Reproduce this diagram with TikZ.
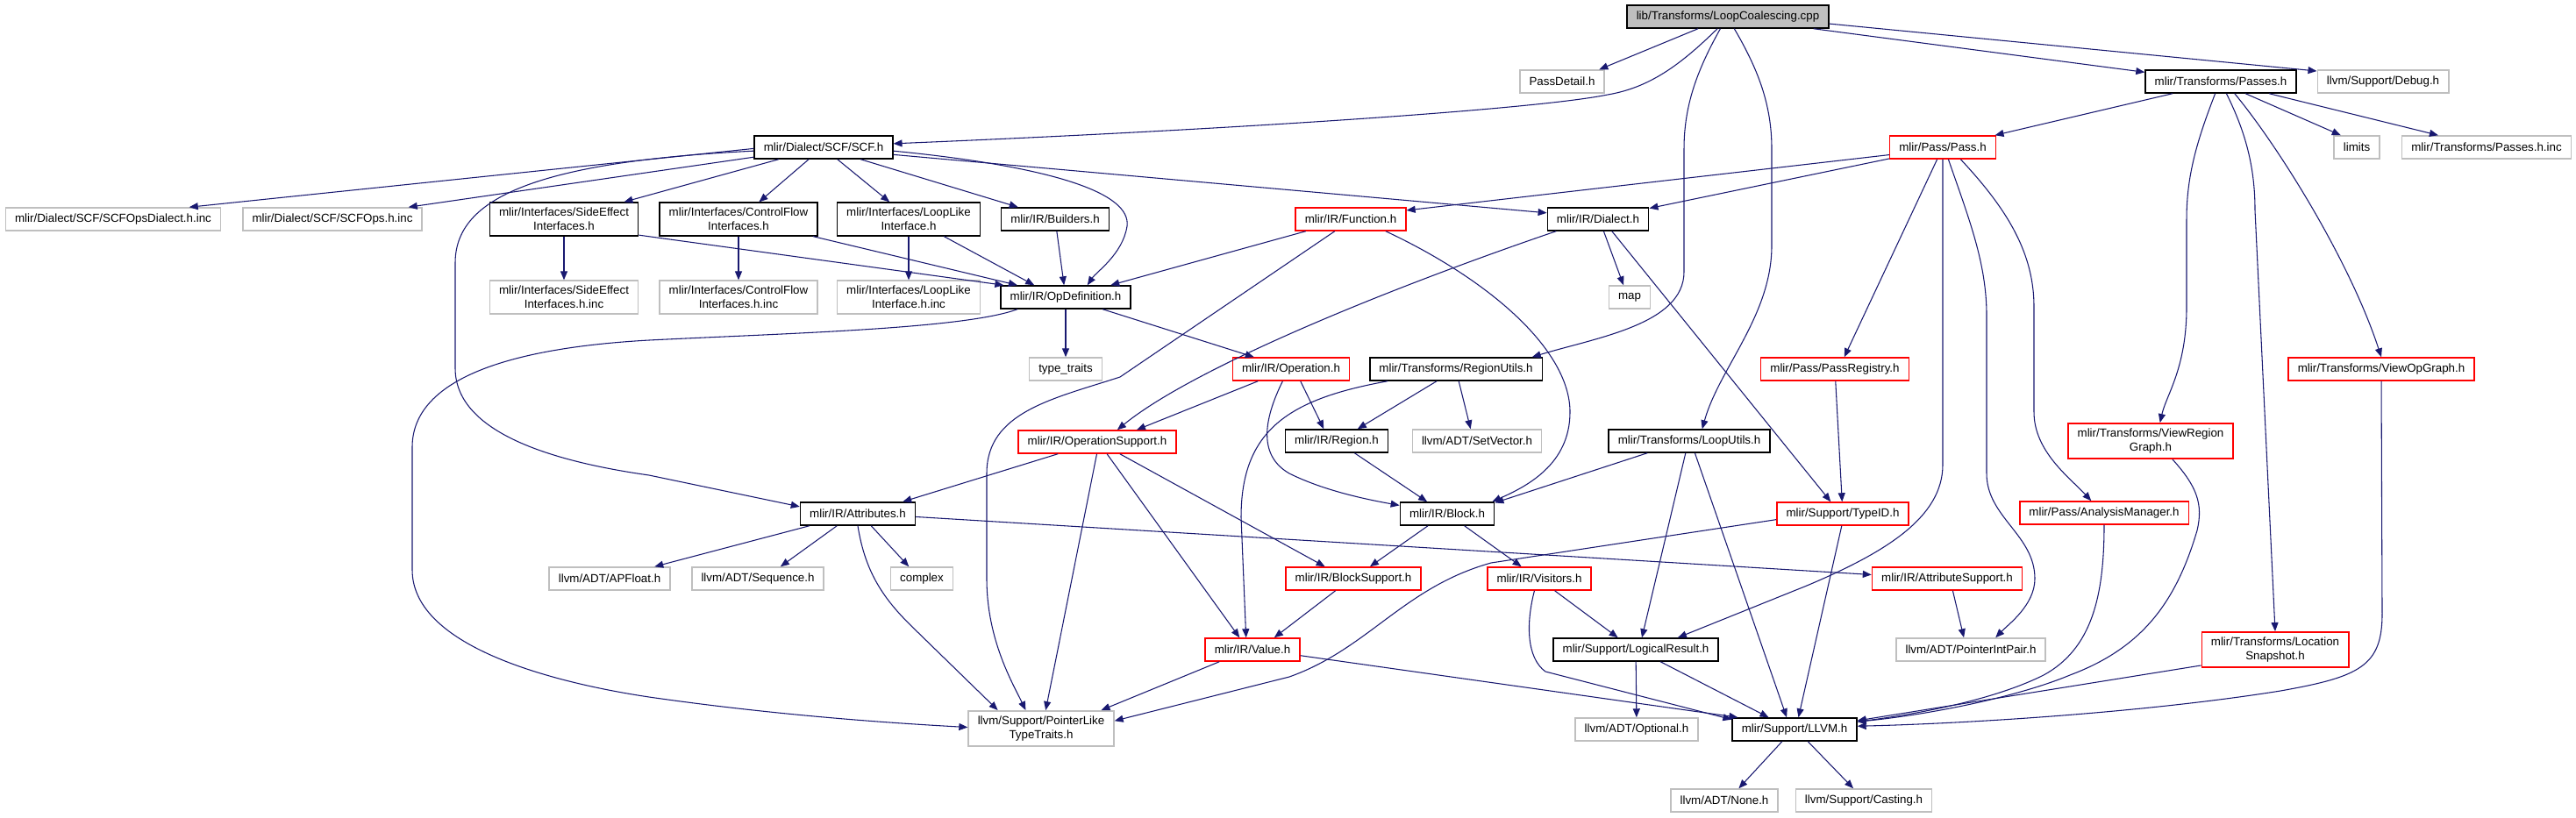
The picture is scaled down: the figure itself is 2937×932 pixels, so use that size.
\documentclass[tikz,border=0pt]{standalone}
\usepackage{fontspec}
\setmainfont{Liberation Sans}
\usepackage{xcolor}
\usepackage{tikz}
\usetikzlibrary{arrows.meta}

\definecolor{edgeblue}{HTML}{191970}
\definecolor{extgray}{HTML}{BFBFBF}
\definecolor{truncred}{HTML}{FF0000}

\begin{document}
\begin{tikzpicture}[x=0.75pt, y=-0.75pt]

% Defined styles
\tikzstyle{file} = [rectangle, draw=black, line width=1.1pt, fill=white, align=center, inner xsep=8pt, inner ysep=4.6pt, minimum height=19.5pt, font=\fontsize{10pt}{11.8pt}\selectfont]
\tikzstyle{extfile} = [file, draw=extgray]
\tikzstyle{truncfile} = [file, draw=truncred]
\tikzstyle{srcfile} = [file, fill=extgray]
\tikzstyle{arrow} = [draw=edgeblue, line width=0.8pt, -{Triangle[length=7.5pt, width=6pt]}]

\useasboundingbox (0,0) rectangle (2937,932);

% --- Top: the source file and its direct includes ---
\node (src) [srcfile] at (1970,19) {lib/Transforms/LoopCoalescing.cpp};
\node (passdetail) [extfile] at (1781,93) {PassDetail.h};
\node (passes) [file] at (2532,93) {mlir/Transforms/Passes.h};
\node (debug) [extfile] at (2717,93) {llvm/Support/Debug.h};
\node (scf) [file] at (939,168) {mlir/Dialect/SCF/SCF.h};
\node (pass) [truncfile] at (2215,168) {mlir/Pass/Pass.h};
\node (limits) [extfile] at (2687,168) {limits};
\node (passesinc) [extfile] at (2835,168) {mlir/Transforms/Passes.h.inc};

% --- Row of SCF includes ---
\node (scfdialectinc) [extfile] at (129,250) {mlir/Dialect/SCF/SCFOpsDialect.h.inc};
\node (scfopsinc) [extfile] at (379,250) {mlir/Dialect/SCF/SCFOps.h.inc};
\node (sideeffect) [file] at (643,250) {mlir/Interfaces/SideEffect\\Interfaces.h};
\node (controlflow) [file] at (842,250) {mlir/Interfaces/ControlFlow\\Interfaces.h};
\node (looplike) [file] at (1036,250) {mlir/Interfaces/LoopLike\\Interface.h};
\node (builders) [file] at (1203,250) {mlir/IR/Builders.h};
\node (function) [truncfile] at (1540,250) {mlir/IR/Function.h};
\node (dialect) [file] at (1822,250) {mlir/IR/Dialect.h};

% --- Generated includes and OpDefinition ---
\node (sideeffectinc) [extfile] at (643,339) {mlir/Interfaces/SideEffect\\Interfaces.h.inc};
\node (controlflowinc) [extfile] at (842,339) {mlir/Interfaces/ControlFlow\\Interfaces.h.inc};
\node (looplikeinc) [extfile] at (1036,339) {mlir/Interfaces/LoopLike\\Interface.h.inc};
\node (opdef) [file] at (1215,339) {mlir/IR/OpDefinition.h};
\node (map) [extfile] at (1858,339) {map};

% --- Middle rows ---
\node (typetraits) [extfile] at (1215,421) {type\_traits};
\node (operation) [truncfile] at (1472,421) {mlir/IR/Operation.h};
\node (regionutils) [file] at (1660,421) {mlir/Transforms/RegionUtils.h};
\node (passregistry) [truncfile] at (2092,421) {mlir/Pass/PassRegistry.h};
\node (viewopgraph) [truncfile] at (2715,421) {mlir/Transforms/ViewOpGraph.h};

\node (opsupport) [truncfile] at (1251,504) {mlir/IR/OperationSupport.h};
\node (region) [file] at (1524,503) {mlir/IR/Region.h};
\node (setvector) [extfile] at (1684,503) {llvm/ADT/SetVector.h};
\node (looputils) [file] at (1926,503) {mlir/Transforms/LoopUtils.h};
\node (viewregion) [truncfile] at (2452,503) {mlir/Transforms/ViewRegion\\Graph.h};

\node (attributes) [file] at (978,586) {mlir/IR/Attributes.h};
\node (block) [file] at (1650,586) {mlir/IR/Block.h};
\node (typeid) [truncfile] at (2101,586) {mlir/Support/TypeID.h};
\node (analysis) [truncfile] at (2399,585) {mlir/Pass/AnalysisManager.h};

\node (apfloat) [extfile] at (695,660) {llvm/ADT/APFloat.h};
\node (sequence) [extfile] at (864,660) {llvm/ADT/Sequence.h};
\node (complex) [extfile] at (1051,660) {complex};
\node (blocksupport) [truncfile] at (1543,660) {mlir/IR/BlockSupport.h};
\node (visitors) [truncfile] at (1755,660) {mlir/IR/Visitors.h};
\node (attrsupport) [truncfile] at (2220,660) {mlir/IR/AttributeSupport.h};

% --- Bottom rows ---
\node (value) [truncfile] at (1428,741) {mlir/IR/Value.h};
\node (logicalresult) [file] at (1865,741) {mlir/Support/LogicalResult.h};
\node (pointerintpair) [extfile] at (2247,741) {llvm/ADT/PointerIntPair.h};
\node (locsnapshot) [truncfile] at (2594,741) {mlir/Transforms/Location\\Snapshot.h};
\node (pointerlike) [extfile] at (1187,831) {llvm/Support/PointerLike\\TypeTraits.h};
\node (optional) [extfile] at (1866,832) {llvm/ADT/Optional.h};
\node (llvm) [file] at (2046,832) {mlir/Support/LLVM.h};
\node (none) [extfile] at (1966,913) {llvm/ADT/None.h};
\node (casting) [extfile] at (2125,913) {llvm/Support/Casting.h};

% --- Arrows from the source file ---
\draw [arrow] (src.-158) -- (passdetail.18);
\draw [arrow] (src.229) .. controls (1915,75) and (1880,100) .. (1833,108) .. controls (1750,125) and (1400,148) .. (scf.3);
\draw [arrow] (src.238) .. controls (1935,80) and (1920,120) .. (1920,170) -- (1920,310) .. controls (1920,370) and (1820,385) .. (regionutils.9);
\draw [arrow] (src.-62) .. controls (2005,80) and (2020,120) .. (2020,170) -- (2020,280) .. controls (2020,360) and (1960,420) .. (looputils.43);
\draw [arrow] (src.-8) -- (passes.173);
\draw [arrow] (src.-4) -- (debug.171);

% --- SCF.h ---
\draw [arrow] (scf.181) -- (scfdialectinc.9);
\draw [arrow] (scf.188) -- (scfopsinc.9);
\draw [arrow] (scf.195) -- (sideeffect.16);
\draw [arrow] (scf.183) .. controls (600,185) and (519,230) .. (519,300) -- (519,420) .. controls (519,490) and (620,525) .. (740,542) -- (attributes.173);
\draw [arrow] (scf.219) -- (controlflow.40);
\draw [arrow] (scf.-41) -- (looplike.138);
\draw [arrow] (scf.-18) -- (builders.162);
\draw [arrow] (scf.-3) .. controls (1200,190) and (1290,220) .. (1285,258) .. controls (1280,290) and (1250,310) .. (opdef.29);
\draw [arrow] (scf.-6) -- (dialect.173);

% --- Interfaces ---
\draw [arrow] (sideeffect) -- (sideeffectinc);
\draw [arrow] (sideeffect.-12) -- (opdef.169);
\draw [arrow] (controlflow) -- (controlflowinc);
\draw [arrow] (controlflow.-13) -- (opdef.166);
\draw [arrow] (looplike) -- (looplikeinc);
\draw [arrow] (looplike.-26) -- (opdef.159);
\draw [arrow] (builders) -- (opdef);

% --- OpDefinition.h, Function.h, Dialect.h ---
\draw [arrow] (opdef) -- (typetraits);
\draw [arrow] (opdef.-18) -- (operation.162);
\draw [arrow] (opdef.194) .. controls (1100,375) and (900,380) .. (740,388) .. controls (560,398) and (470,440) .. (470,510) -- (470,650) .. controls (470,740) and (640,780) .. (740,795) .. controls (900,818) and (1040,826) .. (pointerlike.179);
\draw [arrow] (function.195) -- (opdef.15);
\draw [arrow] (function.217) -- (1277,430) .. controls (1200,455) and (1125,470) .. (1125,540) -- (1125,660) .. controls (1125,730) and (1155,780) .. (pointerlike.130);
\draw [arrow] (function.-19) .. controls (1700,320) and (1790,400) .. (1790,470) .. controls (1790,530) and (1740,555) .. (block.15);
\draw [arrow] (dialect.-65) -- (map.117);
\draw [arrow] (dialect.196) .. controls (1580,330) and (1360,420) .. (opsupport.31);
\draw [arrow] (dialect.-41) -- (typeid.135);

% --- Pass.h and Passes.h ---
\draw [arrow] (pass.188) -- (function.9);
\draw [arrow] (pass.192) -- (dialect.12);
\draw [arrow] (pass.245) -- (passregistry.52);
\draw [arrow] (pass.south) -- (2215,530) .. controls (2215,590) and (2150,630) .. (2060,668) -- (logicalresult.16);
\draw [arrow] (pass.-65) .. controls (2245,250) and (2265,300) .. (2265,360) -- (2265,540) .. controls (2265,590) and (2320,610) .. (2320,660) .. controls (2320,690) and (2290,712) .. (pointerintpair.26);
\draw [arrow] (pass.-34) .. controls (2290,240) and (2319,290) .. (2319,350) -- (2319,470) .. controls (2319,515) and (2360,545) .. (analysis.137);
\draw [arrow] (passes.194) -- (pass.13);
\draw [arrow] (passes.-26) -- (limits.143);
\draw [arrow] (passes.-14) -- (passesinc.166);
\draw [arrow] (passes.-41) .. controls (2600,170) and (2680,300) .. (viewopgraph.north);
\draw [arrow] (passes.245) .. controls (2505,160) and (2493,200) .. (2493,250) -- (2493,350) .. controls (2493,420) and (2470,450) .. (viewregion.63);
\draw [arrow] (passes.-65) .. controls (2560,150) and (2571,190) .. (2571,240) -- (locsnapshot.north);

% --- Right side into LLVM.h ---
\draw [arrow] (viewopgraph.south) -- (2716,700) .. controls (2716,760) and (2690,772) .. (2600,788) .. controls (2450,812) and (2250,825) .. (llvm.3);
\draw [arrow] (viewregion.-40) .. controls (2505,555) and (2512,575) .. (2505,605) .. controls (2480,690) and (2440,740) .. (2360,770) .. controls (2300,795) and (2200,815) .. (llvm.7);
\draw [arrow] (analysis.south) .. controls (2399,680) and (2385,740) .. (2330,770) .. controls (2270,800) and (2180,815) .. (llvm.7);
\draw [arrow] (locsnapshot.192) -- (llvm.8);
\draw [arrow] (attrsupport.-65) -- (pointerintpair.120);

% --- Regions, operations and blocks ---
\draw [arrow] (regionutils.212) -- (region.30);
\draw [arrow] (regionutils.-77) -- (setvector.118);
\draw [arrow] (regionutils.190) .. controls (1470,455) and (1415,490) .. (1415,590) -- (value.118);
\draw [arrow] (operation.200) -- (opsupport.17);
\draw [arrow] (operation.-52) -- (region.137);
\draw [arrow] (operation.235) .. controls (1440,480) and (1435,520) .. (1470,540) .. controls (1510,560) and (1560,570) .. (block.170);
\draw [arrow] (region.-34) -- (block.149);
\draw [arrow] (looputils.196) -- (block.13);
\draw [arrow] (looputils.-107) -- (logicalresult.63);
\draw [arrow] (looputils.-65) -- (llvm.123);

% --- OperationSupport.h and Attributes.h ---
\draw [arrow] (opsupport.197) -- (attributes.15);
\draw [arrow] (opsupport.-92) -- (pointerlike.76);
\draw [arrow] (opsupport.-51) -- (value.137);
\draw [arrow] (opsupport.-28) -- (blocksupport.157);
\draw [arrow] (attributes.194) -- (apfloat.15);
\draw [arrow] (attributes.210) -- (sequence.28);
\draw [arrow] (attributes.-42) -- (complex.137);
\draw [arrow] (attributes.south) .. controls (986,650) and (1005,680) .. (1037,712) -- (pointerlike.157);
\draw [arrow] (attributes.-3) -- (attrsupport.177);

% --- Lower part ---
\draw [arrow] (block.212) -- (blocksupport.36);
\draw [arrow] (block.-35) -- (visitors.146);
\draw [arrow] (typeid.185) -- (1700,642) .. controls (1600,670) and (1560,740) .. (1470,772) -- (pointerlike.6);
\draw [arrow] (typeid.-95) -- (llvm.72);
\draw [arrow] (passregistry) -- (typeid);
\draw [arrow] (blocksupport.214) -- (value.29);
\draw [arrow] (visitors.-38) -- (logicalresult.146);
\draw [arrow] (visitors.-112) .. controls (1740,710) and (1740,750) .. (1762,766) -- (llvm.171);
\draw [arrow] (value.200) -- (pointerlike.17);
\draw [arrow] (value.-7) -- (llvm.168);
\draw [arrow] (logicalresult) -- (optional);
\draw [arrow] (logicalresult.-26) -- (llvm.155);
\draw [arrow] (llvm.224) -- (none.40);
\draw [arrow] (llvm.-42) -- (casting.131);

\end{tikzpicture}
\end{document}
